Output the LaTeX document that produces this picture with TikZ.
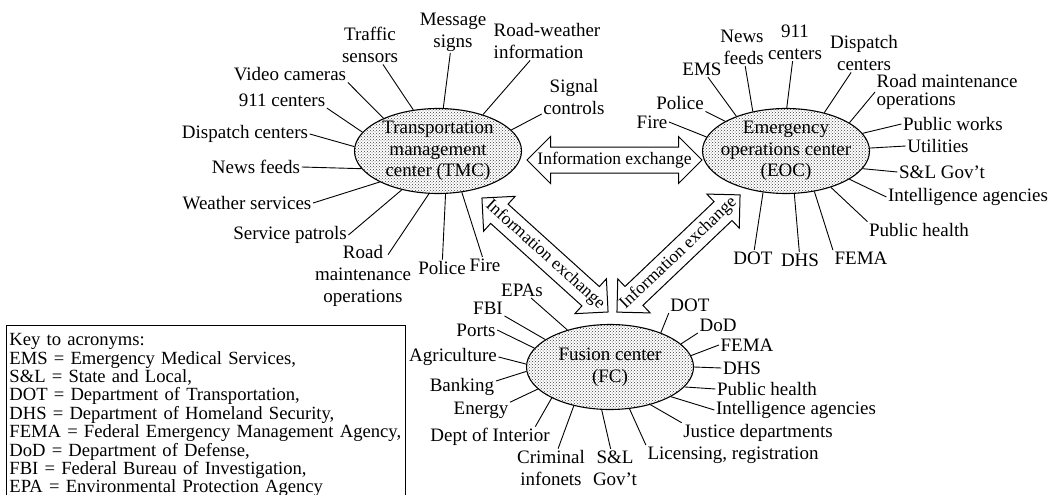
\documentclass[tikz,border=0pt]{standalone}
\usepackage{fontspec}
\setmainfont{Liberation Serif}
\usetikzlibrary{shapes.geometric, shapes.arrows, patterns}

\newcommand{\lblfont}{\fontsize{19}{22}\selectfont}
\newcommand{\hubfont}{\fontsize{19}{21.5}\selectfont}
\newcommand{\keyfont}{\fontsize{18.6}{18.4}\selectfont}
\newcommand{\arrfont}{\fontsize{17.5}{20}\selectfont}

\begin{document}
\begin{tikzpicture}[x=1pt, y=-1pt,
  % dotted grey centres; the text sits in a label so the ellipse keeps its size
  hub/.style={ellipse, draw, line width=1.1pt, minimum width=167pt,
              minimum height=85pt, inner sep=0pt, preaction={fill=white},
              pattern=crosshatch dots, pattern color=black!75},
  hubtext/.style={font=\hubfont, align=center, inner sep=0pt},
  item/.style={font=\lblfont, align=center, inner sep=1.5pt},
  spoke/.style={line width=0.9pt},
  % empty node: the shaft width comes from inner ysep alone
  xarrow/.style={double arrow, draw, fill=white, line width=1pt,
                 double arrow tip angle=90, double arrow head extend=10.5pt,
                 minimum width=46pt, inner xsep=0pt, inner ysep=12.5pt},
  xtext/.style={font=\arrfont, inner sep=0pt},
  keybox/.style={draw, line width=0.9pt, anchor=north west, font=\keyfont,
                 align=left, text width=393pt, inner xsep=3pt, inner ysep=8pt}
]
\useasboundingbox (0,0) rectangle (1055,495);

% Transportation management center
\node[hub, label={[hubtext]center:Transportation\\management\\center (TMC)}] (tmc) at (438,151) {};
\node[item] (tsen) at (370,45)  {Traffic\\sensors};
\node[item] (tmsg) at (453,32)  {Message\\signs};
\node[item, align=left] (trwi) at (547,41) {Road-weather\\information};
\node[item] (tsig) at (574,97)  {Signal\\controls};
\node[item] (tvid) at (290,74)  {Video cameras};
\node[item] (t911) at (282,100) {911 centers};
\node[item] (tdsp) at (245,134) {Dispatch centers};
\node[item] (tnws) at (256,167) {News feeds};
\node[item] (twth) at (247,203) {Weather services};
\node[item] (tsvc) at (290,235) {Service patrols};
\node[item] (trmo) at (363,276) {Road\\maintenance\\operations};
\node[item] (tpol) at (442,268) {Police};
\node[item] (tfir) at (485,265) {Fire};
\coordinate (trmoend) at ([xshift=25pt,yshift=-11pt]trmo.north);

\foreach \s/\a in {tsen/121, tmsg/83, trwi/39, tsig/16, tvid.south east/149,
                   t911.south east/166, tdsp.east/177, tnws.east/193, twth.east/208,
                   tsvc.east/227, trmoend/258, tpol/280, tfir/300}
  \draw[spoke] (\s) -- (tmc.\a);

% Emergency operations center
\node[hub, label={[hubtext]center:Emergency\\operations center\\(EOC)}] (eoc) at (786,151) {};
\node[item] (eems) at (702,69)  {EMS};
\node[item, align=right] (enws) at (742,47) {News\\feeds};
\node[item] (e911) at (795,42)  {911\\centers};
\node[item] (edsp) at (864,53)  {Dispatch\\centers};
\node[item, align=left, anchor=west] (ermo) at (875,92) {Road maintenance\\[-4pt]operations};
\node[item] (epwk) at (953,124) {Public works};
\node[item] (eutl) at (938,146) {Utilities};
\node[item] (eslg) at (942,172) {S\&L Gov't};
\node[item] (eint) at (968,197) {Intelligence agencies};
\node[item] (ephl) at (919,230) {Public health};
\node[item] (efem) at (861,258) {FEMA};
\node[item] (edhs) at (800,260) {DHS};
\node[item] (edot) at (753,258) {DOT};
\node[item] (epol) at (680,103) {Police};
\node[item] (efir) at (652,122) {Fire};

\foreach \s/\a in {eems/145, enws/130, e911/89, edsp/45, ermo.west/24, epwk.west/13,
                   eutl.west/2, eslg.west/-13, eint.west/-24, ephl.north west/-39,
                   efem.north west/-55, edhs/-79, edot/-119, epol.south east/154,
                   efir.east/170}
  \draw[spoke] (\s) -- (eoc.\a);

% Fusion center
\node[hub, label={[hubtext]center:Fusion center\\(FC)}] (fc) at (610,367) {};
\node[item] (fepa) at (522,290) {EPAs};
\node[item] (ffbi) at (488,308) {FBI};
\node[item] (fprt) at (476,330) {Ports};
\node[item] (fagr) at (453,357) {Agriculture};
\node[item] (fbnk) at (462,387) {Banking};
\node[item] (fnrg) at (481,410) {Energy};
\node[item] (fdoi) at (490,437) {Dept of Interior};
\node[item] (fcri) at (551,468) {Criminal\\infonets};
\node[item] (fslg) at (615,468) {S\&L\\Gov't};
\node[item] (flic) at (733,455) {Licensing, registration};
\node[item] (fjus) at (758,433) {Justice departments};
\node[item] (fint) at (796,410) {Intelligence agencies};
\node[item] (fphl) at (767,389) {Public health};
\node[item] (fdhs) at (742,368) {DHS};
\node[item] (ffem) at (747,345) {FEMA};
\node[item] (fdod) at (718,325) {DoD};
\node[item] (fdot) at (690,305) {DOT};
\coordinate (fdoiend) at ([xshift=-16pt]fdoi.north east);

\foreach \s/\a in {fepa/139, ffbi.south east/157, fprt.east/166, fagr.east/178,
                   fbnk.10/183, fnrg.15/197, fdoiend/208, fcri/227, fslg/259,
                   flic.north west/295, fjus.north west/317, fint.west/334,
                   fphl.west/345, fdhs.west/0, ffem.west/8, fdod.south west/18,
                   fdot.south west/34}
  \draw[spoke] (\s) -- (fc.\a);

% information exchange between the centres
\node[xarrow, minimum height=175pt] (te) at (614.5,160) {};
\node[xtext] (tetxt) at (te) {Information exchange};
\node[xarrow, minimum height=170pt, rotate=-42.1] (tf) at (545,255) {};
\node[xtext, rotate=-42.1] (tftxt) at (tf) {Information exchange};
\node[xarrow, minimum height=170pt, rotate=43.6] (ef) at (678.5,253.5) {};
\node[xtext, rotate=43.6] (eftxt) at (ef) {Information exchange};

% key, its lower edge runs off the page
\node[keybox] (key) at (6,325) {Key to acronyms:\\
  EMS = Emergency Medical Services,\\
  S\&L = State and Local,\\
  DOT = Department of Transportation,\\
  DHS = Department of Homeland Security,\\
  FEMA = Federal Emergency Management Agency,\\
  DoD = Department of Defense,\\
  FBI = Federal Bureau of Investigation,\\
  EPA = Environmental Protection Agency};

\end{tikzpicture}
\end{document}
